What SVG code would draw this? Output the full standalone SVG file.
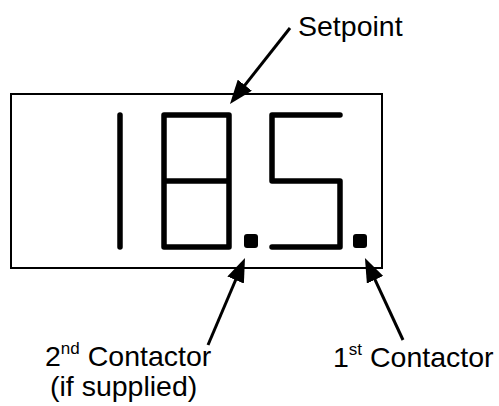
<svg xmlns="http://www.w3.org/2000/svg" width="499" height="406" viewBox="0 0 499 406">
<style>
.seg{fill:none;stroke:#000;stroke-width:5.5;stroke-linecap:round;stroke-linejoin:round}
.dp{fill:#000}
.frame{fill:#fff;stroke:#000;stroke-width:2}
.lead{stroke:#000;stroke-width:3;fill:none}
.lbl{font-family:"Liberation Sans",Arial,sans-serif;font-size:28.5px;fill:#000}
</style>
<defs>
<marker id="ah" viewBox="0 0 24 18" markerWidth="24" markerHeight="18" refX="12" refY="9" orient="auto" markerUnits="userSpaceOnUse">
<path d="M0,0 L24,9 L0,18 z" fill="#000"/>
</marker>
</defs>
<rect width="499" height="406" fill="#fff"/>
<g id="display">
<rect class="frame" x="11" y="94" width="371" height="174"/>
<line class="seg" x1="120" y1="115" x2="120" y2="247"/>
<path class="seg" d="M164,115 H229 V247 H164 Z M164,181 H229"/>
<rect class="dp" x="244" y="234" width="14" height="14" rx="3"/>
<path class="seg" d="M340,115 H272 V181 H340 V247 H272"/>
<rect class="dp" x="353" y="234" width="14" height="14" rx="3"/>
</g>
<g id="setpoint-label">
<text class="lbl" x="298" y="36">Setpoint</text>
</g>
<g id="contactor2-label">
<text class="lbl" x="45" y="366">2<tspan font-size="17" dy="-12">nd</tspan><tspan dy="12"> Contactor</tspan></text>
<text class="lbl" x="50" y="396">(if supplied)</text>
</g>
<g id="contactor1-label">
<text class="lbl" x="333" y="367">1<tspan font-size="17" dy="-12">st</tspan><tspan dy="12"> Contactor</tspan></text>
</g>
<g id="connectors">
<line class="lead" x1="290" y1="28" x2="237.4" y2="94.6" marker-end="url(#ah)"/>
<line class="lead" x1="208" y1="345" x2="240.3" y2="269" marker-end="url(#ah)"/>
<line class="lead" x1="403" y1="340" x2="370" y2="268.9" marker-end="url(#ah)"/>
</g>
</svg>
